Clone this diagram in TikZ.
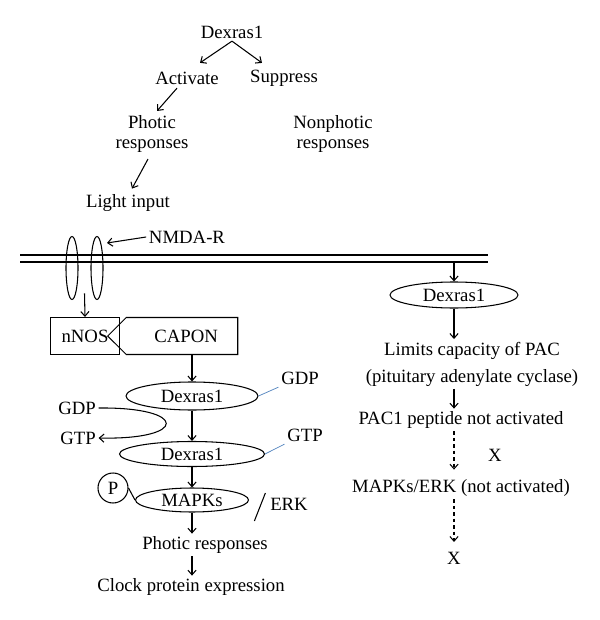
\documentclass[tikz,border=0pt]{standalone}
\usepackage{fontspec}
\setmainfont{Liberation Serif}
\usetikzlibrary{arrows.meta}
\usetikzlibrary{calc}
\usetikzlibrary{shapes.geometric}
\usetikzlibrary{shapes.symbols}
\definecolor{linkblue}{RGB}{79,129,189}
\tikzset{
  >={Straight Barb[length=4pt,width=7pt]},
  lbl/.style={inner sep=2pt, align=center},
  oval/.style={draw, ellipse, inner sep=0pt},
  blocked/.style={->, dash pattern=on 3pt off 2.5pt, shorten >=6pt},
}

\begin{document}
\begin{tikzpicture}[x=0.03cm, y=-0.03cm, line width=0.9pt, font=\fontsize{16}{16.5}\selectfont]
\useasboundingbox (0,0) rectangle (600,620);
\node[lbl] (dexTop) at (232,32) {Dexras1};
\node[lbl] (activate) at (187,78) {Activate};
\node[lbl] (suppress) at (284,78) {Suppress};
\node[lbl] (photic) at (152,134) {Photic\\responses};
\node[lbl] (nonphotic) at (333,134) {Nonphotic\\responses};
\node[lbl] (light) at (128,203) {Light input};
\draw[->] (dexTop.south) -- ($(activate.north)+(13,-6)$);
\draw[->] (dexTop.south) -- ($(suppress.north)+(-22,-4)$);
\draw[->] ($(activate.south)+(-10,1)$) -- ($(photic.north)+(5,-2)$);
\draw[->] ($(photic.south)+(-4,4)$) -- ($(light.north)+(4,-3)$);

\draw[line width=1pt] (20,255) -- (488,255) (20,262) -- (488,262);
\node[oval, minimum width=0.36cm, minimum height=1.89cm] (rec1) at (72,268) {};
\node[oval, minimum width=0.36cm, minimum height=1.89cm] (rec2) at (97,268) {};
\node[lbl] (nmda) at (187,237) {NMDA-R};
\draw[->] (nmda.west) -- ($(rec2.center)+(10,-25)$);
\coordinate (recMid) at ($(rec1.south)!.5!(rec2.south)$);

\node[draw, minimum width=2.07cm, minimum height=1.11cm] (nnos) at (85,336) {nNOS};
\node[draw, signal, signal to=west, minimum width=3.9cm, minimum height=1.11cm] (capon) at (182,336) {\hspace{0.25cm}CAPON};
\draw[->] ([yshift=0.2cm]recMid) -- (nnos.north);

\node[oval, minimum width=3.96cm, minimum height=0.84cm] (dex1) at (192,396) {Dexras1};
\node[oval, minimum width=4.35cm, minimum height=0.75cm] (dex2) at (192,454) {Dexras1};
\node[oval, minimum width=3.39cm, minimum height=0.72cm] (mapks) at (192,500) {MAPKs};
\draw[->] (dex1.north |- capon.south) -- (dex1.north);
\draw[->] (dex1) -- (dex2);
\draw[->] (dex2) -- (mapks);

\node[lbl] (gdpL) at (77,408) {GDP};
\node[lbl] (gtpL) at (78,438) {GTP};
\draw[->] (gdpL.east) .. controls +(90,-1) and +(90,2) .. (gtpL.east);
\node[lbl] (gdpR) at (300,378) {GDP};
\node[lbl] (gtpR) at (305,435) {GTP};
\draw[linkblue, line width=0.6pt] (dex1.east) -- (gdpR.south west);
\draw[linkblue, line width=0.6pt] (dex2.east) -- (gtpR.south west);

\node[draw, circle, minimum size=0.9cm, inner sep=0pt] (pcirc) at (113,488) {P};
\draw (pcirc.east) -- (mapks.west);
\node[lbl] (erk) at (289,504) {ERK};
\draw ($(erk.west)+(-13,17)$) -- ($(erk.west)+(-2,-11)$);

\node[lbl] (resp) at (205,545) {Photic responses};
\node[lbl] (clock) at (191,587) {Clock protein expression};
\draw[->] (mapks.south) -- (mapks.south |- resp.north);
\draw[->] (mapks.south |- resp.south) -- (mapks.south |- clock.north);

\coordinate (memR) at (454,262);
\node[oval, minimum width=3.84cm, minimum height=0.78cm] (dexR) at (454,295) {Dexras1};
\node[lbl] (limits) at (472,364) {Limits capacity of PAC\\[6.5pt](pituitary adenylate cyclase)};
\node[lbl] (pac1) at (461,420) {PAC1 peptide not activated};
\node[lbl] (x1) at (495,455) {X};
\node[lbl] (mapkR) at (461,488) {MAPKs/ERK (not activated)};
\node[lbl] (x2) at (454,558) {X};
\draw[->] (memR) -- (dexR);
\draw[->] (dexR) -- (dexR |- limits.north);
\draw[->] (dexR |- limits.south) -- (dexR |- pac1.north);
\draw[blocked] (dexR |- pac1.south) -- (dexR |- mapkR.north);
\draw[blocked] (dexR |- mapkR.south) -- (x2);
\end{tikzpicture}
\end{document}
